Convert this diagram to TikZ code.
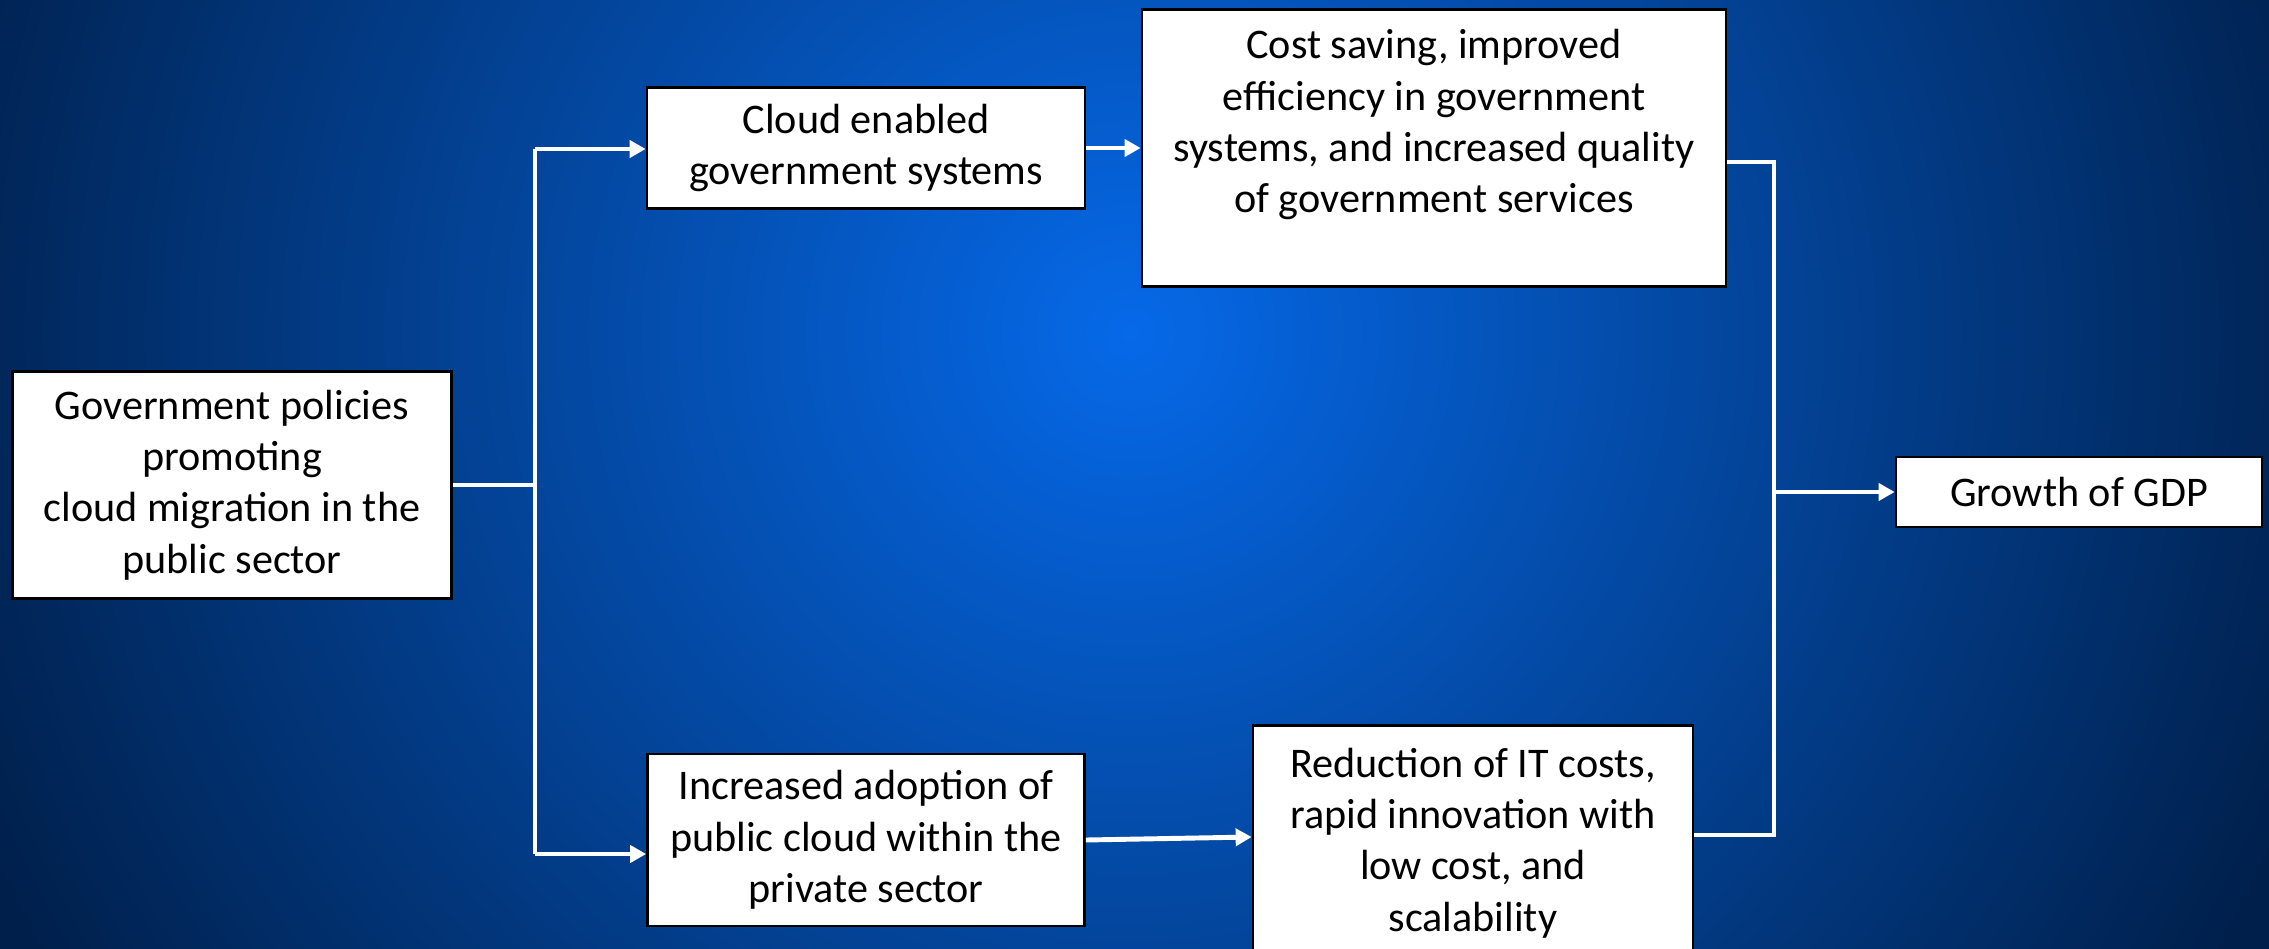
\documentclass[tikz,border=0pt]{standalone}
\usepackage{fontspec}
\setmainfont{Carlito}
\usetikzlibrary{arrows.meta,positioning}

\definecolor{bgcentre}{HTML}{0669E8}
\definecolor{bgedge}{HTML}{00204C}

\begin{document}
\begin{tikzpicture}[
  x=0.01cm, y=-0.01cm,
  box/.style={rectangle, draw=black, line width=0.7pt, fill=white,
              align=center, inner sep=2pt,
              font=\fontsize{12}{14.6}\selectfont},
  arrow/.style={-{Triangle[length=0.16cm,width=0.17cm]}, draw=white, line width=1.4pt},
  link/.style={draw=white, line width=1.4pt}
]

% background
\useasboundingbox (0,0) rectangle (2269,948);
\clip (-10,-10) rectangle (2279,954);
\fill[bgedge] (-10,-10) rectangle (2279,954);
\shade[inner color=bgcentre, outer color=bgedge] (1130,333) circle (12.5cm);

% boxes
\node[box, minimum width=4.39cm, minimum height=2.27cm] (policy) at (232,485)
  {Government policies\\promoting\\cloud migration in the\\public sector};
\node[box, minimum width=4.38cm, minimum height=1.21cm] (cloudgov) at (866,148)
  {Cloud enabled\\government systems};
\node[box, minimum width=5.84cm, minimum height=2.77cm] (saving) at (1434,148)
  {Cost saving, improved\\efficiency in government\\systems, and increased quality\\of government services\\[0.02cm]};
\node[box, minimum width=4.37cm, minimum height=1.72cm] (adoption) at (866,840)
  {Increased adoption of\\public cloud within the\\private sector};
\node[box, minimum width=4.40cm, minimum height=2.35cm] (itcost) at (1473,843)
  {Reduction of IT costs,\\rapid innovation with\\low cost, and\\scalability};
\node[box, minimum width=3.66cm, minimum height=0.70cm] (gdp) at (2079,492)
  {Growth of GDP};

% split after the policy box
\coordinate (splitN) at (535,149);
\coordinate (splitS) at (535,854);
\draw[link] (policy.east) -- (policy.east -| splitN);
\draw[link] (splitN) -- (splitS);
\draw[arrow] (splitN) -- (cloudgov.west |- splitN);
\draw[arrow] (splitS) -- (adoption.west |- splitS);

% middle arrows
\draw[arrow] (cloudgov.east) -- (saving.west |- cloudgov.east);
\draw[arrow] (adoption.east) -- ([yshift=0.06cm]itcost.west);

% join into GDP
\coordinate (joinN) at (1774,162);
\coordinate (joinS) at (1774,835);
\draw[link] (saving.east |- joinN) -- (joinN) -- (joinS) -- (itcost.east |- joinS);
\draw[arrow] (gdp.west -| joinN) -- (gdp.west);

\end{tikzpicture}
\end{document}
